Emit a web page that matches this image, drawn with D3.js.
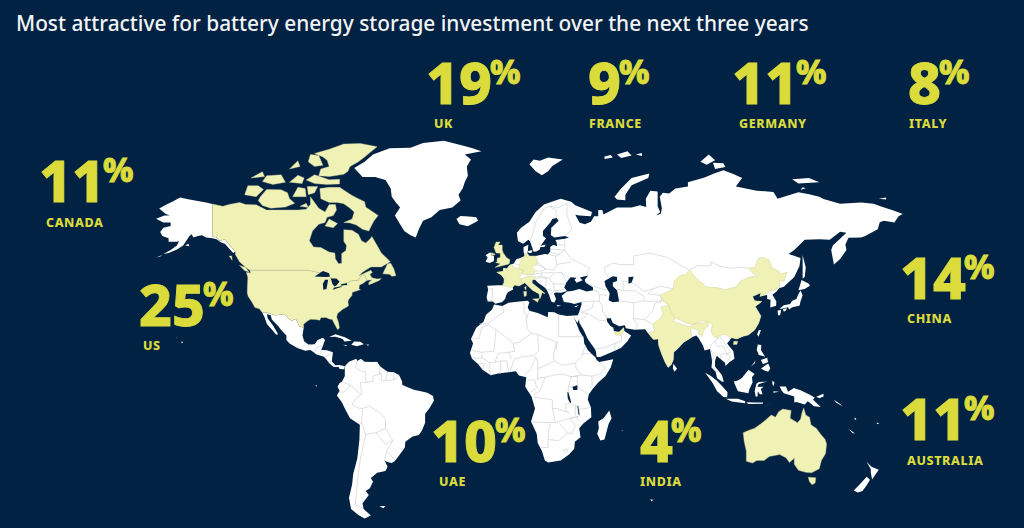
<!DOCTYPE html>
<html>
<head>
<meta charset="utf-8">
<script src="https://d3js.org/d3.v7.min.js"></script>
<style>
  html, body { margin: 0; padding: 0; background: #012243; }
  svg { display: block; }
  text { font-family: "Noto Sans", "Open Sans", sans-serif; }
</style>
</head>
<body>
<svg id="chart" width="1024" height="528"></svg>
<script>
// survey results
var titleText = "Most attractive for battery energy storage investment over the next three years";
var countries = ["UK", "FRANCE", "GERMANY", "ITALY", "CANADA", "US", "UAE", "INDIA", "CHINA", "AUSTRALIA"];
var shares = [19, 9, 11, 8, 11, 25, 10, 4, 14, 11];

// outlines, all [lon, lat]
var alaska = [[-141,69.6],[-144,70],[-148,70.4],[-152,70.8],[-156.5,71.3],[-160,70.3],[-163,69.5],[-166.5,68.4],[-163.5,67],[-161.5,66.5],[-164,66.5],[-168,65.6],[-164.5,64.5],[-161,64.5],[-161,63.5],[-164.5,63],[-166,61.7],[-165,60.5],[-162,59.8],[-162,58.7],[-158,58.7],[-157,58.8],[-158,57.5],[-161,56],[-164.5,54.7],[-162,55],[-158,56.2],[-155,57.5],[-153.5,59],[-152,60.5],[-151,61],[-150,60],[-148,60.5],[-146,60.7],[-144,60],[-141,59.8],[-139,59.5],[-137,58.5],[-135,58],[-133,56.5],[-131,55],[-130,55.5],[-132,57],[-135,59.5],[-137.5,59],[-139,60],[-141,60.3],[-141,65]];
var mexicoCentralAmerica = [[-117.1,32.5],[-114.8,32.5],[-111,31.3],[-108.2,31.5],[-106.5,31.8],[-104.7,30],[-103,29],[-101,29.7],[-99.2,26.5],[-97.2,25.9],[-97.8,22.5],[-97,20],[-95,18.5],[-92,18.6],[-90.5,20.5],[-88,21.5],[-87,20.5],[-88,18],[-88.8,16],[-86,15.9],[-83.2,15],[-83.6,12],[-83.7,10.8],[-82,9],[-80,9.2],[-77.5,8.6],[-77.8,7.2],[-80,7.3],[-80.5,8.2],[-82.8,8.2],[-85,10],[-86,11.3],[-87.5,13],[-91,14],[-94,16],[-96.5,15.7],[-100,16.8],[-104,19],[-105.5,20.5],[-105.5,22.5],[-108,25],[-109.5,26.7],[-112.5,29.5],[-113,31.3],[-114.8,31.7],[-114.5,30],[-112,27],[-110,24],[-109.5,23],[-110.5,23],[-112.3,25],[-114.8,27.5],[-116,30.5]];
var southAmerica = [[-77.5,8.6],[-75.5,10.7],[-72,12],[-71.5,11],[-69.8,12],[-68,10.6],[-64,10.5],[-62,10.7],[-60.5,8.5],[-57,6],[-54,5.8],[-51.5,4.5],[-50,1.5],[-50,0],[-48,-1],[-44,-2.5],[-41,-3],[-38,-3.8],[-35.2,-5.3],[-34.8,-7.5],[-37,-11],[-39,-13.5],[-39,-17.5],[-40.5,-21],[-42,-23],[-45,-23.7],[-48.5,-26],[-48.7,-28.5],[-52,-32.5],[-53.5,-34.2],[-55,-35],[-57.5,-34.5],[-58.4,-34],[-57,-36.5],[-58,-38.3],[-62,-39],[-65,-41],[-64,-42.5],[-65.5,-45],[-67.5,-46],[-66,-47.5],[-69,-50.5],[-68.5,-52.5],[-65,-54.7],[-68,-55.7],[-71,-54.5],[-74.5,-52.5],[-75.5,-48.5],[-74,-43.5],[-73.5,-39.5],[-71.5,-33],[-70.5,-25],[-70.3,-18.4],[-75,-15.5],[-77,-12],[-79,-8],[-81.3,-5],[-80,-2.8],[-81,-1],[-80,0.8],[-78.8,1.5],[-77.5,4],[-77.5,7]];
var africa = [[-5.9,35.8],[-2,35.2],[1,36.5],[5,36.9],[10,37.3],[11,36.8],[10.2,34.5],[11,33.2],[15,32.3],[19.8,30.5],[20,32.7],[23,32.6],[25,31.6],[29,31],[32.3,31.2],[32.6,30],[33.5,28],[35,24.5],[37,21.5],[37.3,19],[39,16],[42.5,12.7],[43.3,11.5],[44.5,10.5],[51.2,11.8],[50,8],[47.5,4],[44,1],[41.5,-1.8],[39.5,-4.5],[39,-7],[40.5,-10.5],[40.7,-15],[37,-17.8],[34.9,-20],[35.5,-24],[32.8,-26],[32.5,-29],[30,-31.5],[26,-34],[20,-34.8],[18.4,-34],[17,-30],[15,-26.5],[14.5,-22.5],[11.8,-17],[13.7,-11],[12,-5.5],[9,-1],[9.5,3.5],[6,4.3],[4.5,6.3],[1,5.8],[-4,5.2],[-7.5,4.4],[-11.5,7],[-13.5,9.5],[-16.5,12],[-17.5,14.7],[-16,19],[-17,21],[-14.5,26],[-11,28.5],[-9.8,31.5],[-7,33.6]];
var eurasia = [[-9,37],[-9.5,38.7],[-8.8,41.8],[-9.2,43.2],[-4,43.4],[-1.8,43.4],[-1.2,44.5],[-1.2,46],[-2.5,47.3],[-4.7,48.3],[-1.6,48.6],[-1.5,49.7],[0.2,49.6],[1.6,50.9],[3.5,51.4],[4.7,52.9],[7,53.4],[8.8,53.9],[8.2,55.5],[8.2,57],[10.5,57.7],[10.3,56],[10,54.8],[11,54],[14,54],[18.5,54.7],[19.8,54.5],[21,55.5],[21,57],[22.5,57.7],[24.3,57.2],[24,58.5],[23.5,59.2],[28,59.6],[30,60],[28,60.5],[23,60],[21.3,60.7],[21.5,63],[25,65],[24,65.8],[22,65.5],[21,64.5],[17.5,62],[17.5,60.5],[19,59.8],[16.5,57.5],[16,56.2],[14.3,55.5],[13,55.4],[11.3,58.8],[10.5,59.3],[8,58],[5.5,58.9],[5,61.5],[7,63],[11,64.7],[14,67.5],[18,69.5],[22,70.3],[26,71],[31,70.2],[33,69.3],[41,67.5],[40.5,66.3],[35,66.5],[33,66.7],[35,64.5],[37.5,64],[40.5,64.7],[42,66.3],[44,66.3],[44,68],[46,68],[46.5,66.8],[53,68.7],[60,68.7],[64,69.3],[67,68.8],[66.8,71],[69,73],[72.5,72.8],[72.5,69],[73.7,67.5],[71.8,66.5],[74,67],[74.5,68.5],[73.5,71.5],[75,72.5],[78,72.3],[81,73.5],[87,74],[87,75],[95,76.1],[104,77.7],[113,76],[110,74],[113,73.7],[120,73],[128,72.7],[130,71],[133,71.5],[140,72.6],[150,71.5],[152,70.9],[160,69.7],[170,70],[176,69.7],[180,68.9],[190,66.9],[188,66.3],[186,64.5],[181,65],[179,64.6],[178,62.5],[172,60.5],[170,60],[164,59.9],[162.5,57.8],[163,56],[160,53],[157,51],[155.7,56],[156.5,57.5],[163,61.5],[160,61.8],[155,59.3],[150,59.5],[143,59.3],[138,56],[135.3,54.7],[141,53.3],[140.5,50.5],[138,46.5],[133,42.8],[130.7,42.3],[129.5,41],[127.5,39.7],[129.4,37],[129.3,35.3],[126.5,34.5],[126.6,37.7],[125,38],[125,39.6],[121.5,39],[122,40.5],[118,39],[119,37.3],[122.5,37],[119.3,35],[122,31],[121,28],[119,25],[116,22.8],[113.5,22.2],[110.5,21],[108,21.5],[105.8,19],[108.8,15.5],[109.3,12],[107,10.5],[105,8.7],[104.8,10.2],[102.5,12],[100.8,13.4],[100,11],[100,8.5],[103.3,4.5],[104.2,1.4],[103.4,1.4],[101,3],[100.3,6],[98.3,8],[98.6,11],[97.6,16.5],[95,15.8],[94.3,18],[92,21.5],[91,22.5],[88.5,21.7],[87,20.7],[85,19.5],[82,16.5],[80.2,15],[80,11.5],[79,9.3],[77.5,8],[76,10.5],[74.5,14],[73,18],[72.7,21],[70.5,20.8],[69,22.3],[67.5,24],[66.5,25.3],[61.5,25.1],[57.3,25.7],[56.7,27],[54,26.6],[51,28],[50,30],[48,30],[48.3,28.5],[50,26.6],[51.2,26.1],[51.5,24.5],[54,24.1],[56.3,26.2],[56.5,24.5],[59.8,22.5],[58,20],[55,17],[52,15.7],[45,12.8],[43.3,12.8],[42.7,16],[39,21],[37,25],[35,28],[34.8,29.5],[34,28],[32.6,30],[32.3,31.2],[34.2,31.3],[35,33],[36,35.8],[36,36.8],[32.5,36],[30.5,36.5],[27.5,36.8],[26.5,39.3],[29,41],[31.5,41.2],[35,42],[38.5,41],[41.5,41.5],[41.5,42.5],[38,44.5],[37.5,45.5],[39.2,47.1],[35.2,46.3],[36.5,45.3],[33.6,44.4],[32.6,45.5],[33.6,46.2],[30.7,46.4],[28.7,44.5],[27.7,42.5],[29,41.2],[26.3,40.5],[23.7,40.6],[22.7,40.3],[23.8,38],[22.9,36.5],[21.5,37],[20.5,39.5],[19.4,41.5],[18.5,42.4],[15,44.5],[13.7,45.5],[12.4,45.4],[12.3,44.3],[13.5,43.5],[16,41.9],[18.5,40.2],[17,40.5],[16.5,39],[16,38],[15.7,40],[12.5,41.5],[10.5,43],[8.8,44.4],[7.5,43.8],[6,43.1],[4,43.5],[3,42.6],[3.2,41.8],[0.7,40.7],[-0.3,39.3],[-0.5,38.2],[-2,36.8],[-5.3,36.1],[-6.5,37]];
var greenland = [[-73,78.2],[-68,79.5],[-64,81],[-56,82.2],[-46,82.3],[-40,83.2],[-30,83.6],[-22,82.8],[-12,81.6],[-20,81],[-17,80],[-19,78.5],[-18.5,76.5],[-20,75],[-21,73.5],[-23,72],[-22,70.5],[-26,68.7],[-32,68],[-36,66],[-40,65],[-42,62.5],[-43.5,60],[-46,60.7],[-49,62],[-51,64],[-53.5,66.5],[-51,68.7],[-53,70],[-55,71.5],[-55.5,73.5],[-58,75.5],[-63,76.2],[-69,76.2]];
var whiteIslands = [
  [[-10,52],[-9,53.5],[-10,54.2],[-8,55.2],[-7.3,55.1],[-7.3,54.2],[-6,54],[-6,52.3],[-8,51.6]],
  [[-24,65.5],[-22,66.4],[-18,66.2],[-14.5,66],[-13.6,65],[-18.5,63.4],[-22.5,64]],
  [[11,79],[13,80],[16,79.7],[20,80.4],[27,80],[22,78.6],[20,77.5],[17,76.6],[14,77.5]],
  [[51.8,71.5],[55,73.5],[60,76],[68.5,77],[68,76],[60,74.3],[57,72],[57,70.6],[53,70.8]],
  [[47,80.6],[50,80.9],[51,80.4],[47,80.1]],
  [[53,81],[58,81.6],[60,80.8],[55,80.3]],
  [[62,81],[65,81.3],[65,80.7]],
  [[93,79.5],[97,81],[100,79.8],[96,78.9]],
  [[99,79.3],[104,79.2],[105,78.4],[100,78]],
  [[137,75.7],[145,76],[150,75],[140,74.7]],
  [[142,73.8],[143.5,73.6],[141,73.2]],
  [[178.5,71],[182,71.3],[182,70.8]],
  [[142,54.3],[143.5,50],[143,46.5],[142,46],[142,50]],
  [[130.9,34],[133,35.5],[136,36],[137,37.3],[139,38],[140,40],[141,41.4],[142,39.5],[141,37],[140.5,35.3],[137,34.6],[135.5,33.7],[135,34.6],[132,34]],
  [[140,41.5],[141.5,45.4],[145,44],[145.5,43.2],[143,42]],
  [[130,33.3],[131.7,33.5],[131.2,31.3],[130.2,31.3]],
  [[132.5,33.9],[134.5,34.2],[134,33.3],[133,32.8]],
  [[121,25],[122,25],[120.9,22],[120.2,23]],
  [[120.5,18.5],[122.2,18.3],[122,16],[124,13],[121,13.8],[120,16]],
  [[122,7.5],[125.5,9.8],[126.5,7.5],[125.5,6],[124,6.5]],
  [[122,11.5],[125,12.5],[125.5,10.5],[123,9.5]],
  [[117.3,8.5],[119.5,11.3],[119,10]],
  [[109,1.5],[111,2],[113,3.2],[116,7],[119,5],[117.7,3.5],[118,1],[116.5,-2],[116,-4],[111,-3],[110,-1]],
  [[95.3,5.6],[98,4],[100.8,2],[103.7,-1],[106,-3.5],[105.8,-5.8],[104,-5.7],[101,-3],[98.7,1]],
  [[105.2,-6.5],[108.5,-6.5],[111,-6.5],[114.5,-7.7],[114.4,-8.6],[108,-7.8]],
  [[119.5,-5.5],[119,-3],[119.8,0.5],[121,1.2],[125,1.5],[121,0.3],[120.3,-1],[122,-1],[123.3,-0.9],[122,-2],[122.8,-4.5],[121.5,-4.5],[120.5,-3],[120.4,-5.5]],
  [[115,-8.2],[119,-8.3],[123,-8.3],[123,-8.8],[116,-9]],
  [[123.5,-10.3],[127,-8.4],[125,-9.5]],
  [[128,-3],[130.8,-3.3],[128,-3.7]],
  [[127.5,2],[128.5,1],[128,-0.8],[127.5,0.5]],
  [[131,-0.8],[134,-0.8],[135,-3.3],[137.8,-1.5],[141,-2.6],[145,-4.5],[147.8,-6],[147,-7],[150.7,-10.4],[147.5,-10],[144.5,-7.7],[143,-9.2],[139,-8],[138,-8.3],[138,-5.5],[133,-4],[132,-2.8]],
  [[148.5,-5.6],[152,-4.2],[152,-5.5],[150,-6.3]],
  [[157,-7],[160,-9],[161,-10],[158,-8.3]],
  [[164,-20.2],[167,-22.3],[166,-22.2]],
  [[167,-15],[167.8,-16],[167,-16.3]],
  [[177.3,-17.5],[178.7,-17.7],[178,-18.2]],
  [[172.7,-34.5],[175,-36.5],[178.5,-37.7],[177,-39.5],[175.3,-41.6],[174.7,-39],[174.7,-37.5]],
  [[172.7,-40.5],[174.3,-41.7],[172.8,-43.7],[170.7,-46],[168.5,-46.6],[166.5,-45.8],[170,-43]],
  [[80,9.7],[81.8,7.5],[80.6,6],[79.8,7.5]],
  [[49.3,-12],[50.4,-15.5],[49,-18],[47,-25],[45,-25.5],[43.5,-22.5],[44.3,-20],[44,-17],[46.5,-15.5]],
  [[-85,21.9],[-82,23.1],[-77.5,21.8],[-74.2,20.2],[-77.7,19.9],[-78.5,21],[-82,22]],
  [[-74.4,18.4],[-73,19.9],[-70,19.8],[-68.4,18.6],[-71,18],[-71.7,17.7]],
  [[-78.3,18.4],[-76.3,18.2],[-77,17.8]],
  [[-67.2,18.5],[-65.6,18.4],[-66.5,18]],
  [[-61,-51.5],[-58,-51.4],[-59,-52.2]],
  [[-155.9,19.9],[-155,19.7],[-155.6,19]],
  [[-158.2,21.6],[-157.7,21.4],[-158,21.3]],
  [[-154,57.5],[-152.5,58],[-152,57.2]],
  [[-168,53.5],[-165,54.3],[-166,53.8]],
  [[69,-49],[70.5,-49.2],[69.5,-49.7]],
  [[55.2,-21],[55.8,-21],[55.5,-21.4]],
  [[-91.6,-0.3],[-90.9,-0.3],[-91.2,-1]],
  [[24,35.6],[26.2,35.3],[24.5,35]],
  [[32.5,35],[34.5,35.6],[33.5,34.7]],
  [[10,55.6],[12.5,56],[12,55],[10.8,55]],
  [[14.5,57],[18.8,57.8],[18.2,57]]
];
var canada = [[-141,69.6],[-136,69],[-133,69.5],[-128,70],[-125,69.5],[-120,69.4],[-115,68],[-110,68],[-105,68],[-100,68],[-96,68.2],[-94,69.5],[-94,71.5],[-92,70],[-90,68.5],[-87,67.5],[-85,69.5],[-82,69.5],[-81.5,68],[-83,66.5],[-86,66],[-87,64.5],[-90,64],[-93,62],[-94.5,59],[-92.5,57],[-89,56.8],[-85,55.3],[-82.3,55],[-82,53],[-80.5,51.3],[-79,51.5],[-79,53],[-79,54.8],[-77,55.8],[-76.7,57.5],[-78,58.8],[-78,60.5],[-78,62.4],[-74,62.2],[-71,61],[-69.5,59],[-67.5,58.3],[-65.5,59.5],[-64.5,60.3],[-62,57.5],[-60,55],[-57,53],[-55.7,52],[-58,51],[-60,50.2],[-65,50.2],[-67,49.3],[-69,48.3],[-70.8,47],[-65,49],[-64.3,48.2],[-65.5,47.5],[-64.5,46.2],[-62,45.8],[-60,46],[-61,45.2],[-64,44.2],[-66,43.6],[-66,44.5],[-64.5,45.5],[-67,45.2],[-67.8,47.1],[-69.2,47.4],[-71,45.3],[-74.7,45],[-76.5,44.2],[-79,43.3],[-79,42.8],[-83,42],[-82.5,43],[-82.5,45.3],[-84.5,46.5],[-88.5,48.3],[-89.5,48],[-95,49],[-100,49],[-105,49],[-110,49],[-115,49],[-120,49],[-123,49],[-125,50],[-128,52],[-130,54.5],[-130,55.5],[-132,57],[-135,59.5],[-137.5,59],[-139,60],[-141,60.3],[-141,65]];
var canadaIslands = [
  [[-80,73.8],[-77,72.8],[-74,71.8],[-71,71],[-68,70.2],[-67.5,68.8],[-64,67.5],[-61.5,66.5],[-63.5,65],[-65,63.3],[-66,62],[-69,62.5],[-72,63.8],[-75,64.4],[-78,64.5],[-74,65.5],[-73,67.5],[-75,68.5],[-78,69.7],[-81,70],[-85,70],[-89,71],[-89.5,73.5],[-85,73.8]],
  [[-90,76.5],[-89,78],[-85,78.5],[-86,79.8],[-88,80.5],[-92,81.2],[-85,82],[-78,83],[-70,83.1],[-62,82.5],[-65,81.5],[-68,80.5],[-71,79.5],[-75,78.5],[-76,77.5],[-78,76.8],[-85,76.3]],
  [[-96,75.5],[-92,76.7],[-85,75.6],[-80,75.7],[-80,74.6],[-86,74.5],[-92,74.7]],
  [[-95,79.5],[-94,81],[-90,80.8],[-88,78.8],[-92,78.5]],
  [[-119,70.5],[-118,71.5],[-115,73.3],[-108,73.2],[-105,72.5],[-104,71],[-101.5,69.8],[-106,68.8],[-113,68.5],[-117,69.2]],
  [[-125.5,72],[-124,74.2],[-119,74.2],[-116.5,73.3],[-120,71.5]],
  [[-117,75.2],[-115,76.5],[-108,76.7],[-106,75],[-112,74.5]],
  [[-102.5,71.5],[-100,73.8],[-96.5,73.5],[-96,71.5]],
  [[-95,72],[-95.5,74],[-90.5,74],[-92,72.5]],
  [[-87,63.5],[-85,65.5],[-81,64.2],[-83,63]],
  [[-104,75],[-100,76.6],[-97,76],[-98,74.7]],
  [[-122.5,76],[-117,77.4],[-116,76.3]],
  [[-104,78],[-100,79.7],[-99,78.5]],
  [[-99,69],[-96,69.8],[-95,68.7]],
  [[-59.3,47.7],[-57,51.3],[-55.5,51.5],[-54,49.5],[-53,47],[-55,46.8],[-56,47.5]],
  [[-128,50.7],[-125,50],[-123.5,48.4],[-125.5,48.8]],
  [[-133,54],[-131.7,54],[-131.5,52.5]]
];
var usa = [[-123,49],[-120,49],[-115,49],[-110,49],[-105,49],[-100,49],[-95,49],[-89.5,48],[-88.5,48.3],[-84.5,46.5],[-82.5,45.3],[-82.5,43],[-83,42],[-79,42.8],[-79,43.3],[-76.5,44.2],[-74.7,45],[-71,45.3],[-69.2,47.4],[-67.8,47.1],[-67,45.2],[-69,44],[-70.5,43.5],[-70.7,42],[-70,41.7],[-72,41.2],[-74,40.6],[-74,39.5],[-75.5,38],[-76,37],[-75.7,35.3],[-77,34.5],[-78.5,33.8],[-81,32],[-81.4,30.5],[-80.5,28.2],[-80.1,25.8],[-80.9,25.1],[-81.8,26.5],[-82.7,28],[-83.5,29.5],[-85,29.7],[-86.5,30.4],[-89,30.3],[-89.5,29.2],[-91.5,29.5],[-94,29.6],[-95.5,28.8],[-97.3,27.5],[-97.2,25.9],[-99.2,26.5],[-101,29.7],[-103,29],[-104.7,30],[-106.5,31.8],[-108.2,31.5],[-111,31.3],[-114.8,32.5],[-117.1,32.5],[-118.5,34],[-120.6,34.5],[-122,36.7],[-123.8,39],[-124.3,40.4],[-124.2,43],[-124,46.3],[-124.7,48.3],[-122.7,48]];
var china = [[134.7,48.3],[133,45],[131,45],[131,43],[130.7,42.3],[128,41.5],[126,41],[124.4,40],[121.5,39],[122,40.5],[118,39],[119,37.3],[122.5,37],[119.3,35],[122,31],[121,28],[119,25],[116,22.8],[113.5,22.2],[110.5,21],[108,21.5],[106.5,22],[105,23],[102,22.5],[101.5,21.2],[99.5,22],[98,24],[98.7,27.5],[97,28.3],[94,29],[92,28],[89,27.5],[86,28],[81,30.3],[78.5,32],[78,35.5],[75,37],[73.7,39.5],[76,40.5],[80,42],[80.3,45],[83,47],[85.7,47.5],[87.8,49.1],[91,46],[96,42.8],[101,42.5],[105,41.7],[110,42.8],[112,44.8],[116,46.5],[119.7,46.7],[116,49.8],[119,50],[121,53.3],[123.5,53.5],[126,52.5],[127.5,49.8],[130.5,48.8],[131,47.7]];
var hainan = [[109,20],[110.9,20],[110.5,18.5],[108.8,18.5]];
var india = [[74,34.7],[77.8,35.5],[79,32.5],[81,30.3],[80,28.8],[84,27.4],[88,26.4],[88.8,27.3],[92,27.8],[97,28.3],[97,27],[94.5,24.5],[93.5,22],[92,23.5],[92,25],[89.8,25.5],[88.5,26],[88.5,24],[89,21.8],[87,20.7],[85,19.5],[82,16.5],[80.2,15],[80,11.5],[79,9.3],[77.5,8],[76,10.5],[74.5,14],[73,18],[72.7,21],[70.5,20.8],[69,22.3],[68.2,23.7],[71,24.5],[70,27.5],[73,29.5],[74.5,31],[75,32.5]];
var france = [[-1.8,43.4],[-1.2,44.5],[-1.2,46],[-2.5,47.3],[-4.7,48.3],[-1.6,48.6],[-1.5,49.7],[0.2,49.6],[1.6,50.9],[2.6,51],[4.2,50],[5.8,49.5],[8.2,49],[7.6,47.6],[6,46.3],[7,45.9],[7.5,43.8],[6,43.1],[4,43.5],[3,42.6],[0.7,42.7]];
var corsica = [[8.6,42.5],[9.5,43],[9.3,41.5]];
var germany = [[7,53.4],[8.8,53.9],[8.7,54.9],[10,54.8],[11,54],[14,54],[14.7,52],[15,51],[12.2,50.3],[13.8,48.7],[13,47.5],[10,47.4],[7.6,47.6],[8.2,49],[6.2,49.5],[6,51],[7,52.3]];
var italy = [[7,45.9],[8.5,46.4],[12,47],[13.7,46.5],[13.7,45.6],[12.4,45.4],[12.3,44.3],[13.5,43.5],[16,41.9],[18.5,40.2],[17,40.5],[16.5,39],[16,38],[15.7,40],[12.5,41.5],[10.5,43],[8.8,44.4],[7.5,43.8]];
var sicily = [[12.5,38],[15.6,38.2],[15,36.7]];
var sardinia = [[8.2,41],[9.7,41],[9.5,39.2],[8.5,39]];
var greatBritain = [[-5.5,50],[-3.5,50.3],[1.3,51.2],[1.7,52.7],[0,53.5],[-1.5,55],[-2,56],[-2,57.6],[-4,57.6],[-3,58.6],[-5,58.6],[-6,56.8],[-5,55],[-3,54.9],[-3,53.5],[-4.5,53.2],[-4.5,52],[-5.2,51.7],[-3,51.3]];
var northernIreland = [[-7.3,55.1],[-5.5,54.7],[-5.6,54.3],[-7.3,54.2]];
var uae = [[51.6,24.2],[54,24.1],[56.3,25.8],[56.3,24.7],[55.2,22.7],[52.5,22.7]];
var australia = [[113.5,-22],[114,-26],[115,-30],[115,-34.3],[118,-35],[120,-34],[123.5,-34],[126,-32.3],[131,-31.5],[134,-32.8],[135.7,-34.8],[138,-33],[138,-35.5],[140,-38],[143.5,-38.8],[146.3,-39],[150,-37.3],[151,-34],[153,-31],[153.5,-27],[152.8,-25],[150.5,-22.5],[148.5,-20],[146,-18.5],[145.3,-15],[143.5,-14],[142.5,-10.8],[141.7,-13],[141,-16],[139.5,-17.5],[136,-15.5],[136.5,-12],[132.5,-11.3],[130.5,-12.5],[129,-15],[127,-14],[124,-16.5],[122,-18],[119,-20],[116,-21]];
var tasmania = [[144.7,-40.7],[148.3,-40.9],[148,-43],[146.5,-43.6],[145.3,-42.5]];

// water on top of the land
var lakes = [
  [[-92,46.7],[-88,48.7],[-85,47.9],[-84.7,46.6],[-87,46.5]],
  [[-87.8,41.7],[-86.3,42],[-85.5,45.5],[-87,45.5],[-88,44]],
  [[-84.5,46],[-81.5,46],[-80,44.7],[-81.7,43.2],[-82.5,43],[-83.5,44],[-84,45.5]],
  [[-83.3,41.7],[-79,42.8],[-79,43],[-82.5,42.5]],
  [[-79.7,43.3],[-76.3,43.5],[-76.5,44.2],[-79,43.9]],
  [[47,45],[51,46.8],[53,46.5],[53,45],[51,44.5],[51,43],[53,41.5],[53.5,39.5],[54,37],[51,36.7],[49,37.5],[49.5,40.3],[47.5,43]],
  [[58.5,46.5],[61,46.6],[60,44.5],[58.5,44]],
  [[31.7,-1],[34,-0.3],[34,-2.5],[32,-2.5]],
  [[29.2,-3.5],[29.7,-3.5],[31,-8],[30.6,-8.6],[29.4,-6.3]],
  [[34,-9.7],[34.4,-10],[35,-14],[34.5,-13.7]]
];

// land borders in the white countries
var borders = [
  [[-71.5,11],[-72.5,8],[-70,6.5],[-67.5,6],[-67.5,2],[-67,1.2]],
  [[-60.5,8.5],[-61,5],[-60,5.2],[-60,2],[-57,2],[-54,2.3],[-52,3.8],[-51.5,4.5]],
  [[-60,5.2],[-64,4],[-64,1.5],[-67,1.2],[-70,1],[-69.5,-4.2],[-73,-7.3],[-74,-9.5],[-70.5,-11],[-69,-11],[-65.5,-10],[-60,-13.5],[-58,-16.3],[-58,-20],[-54.5,-25.5],[-57.5,-30],[-53.5,-33.7]],
  [[-58,-20],[-62.5,-22],[-58,-27.2],[-54.5,-25.5]],
  [[-69,-11],[-69.5,-17.5],[-67.5,-22.8],[-62.5,-22]],
  [[-67.5,-22.8],[-68.5,-27],[-70,-33],[-71,-39],[-72,-47],[-72.5,-51],[-69,-52]],
  [[-80.3,-3.4],[-78,-3.5],[-75.5,-1],[-75,-0.1],[-78.8,1.3]],
  [[-75,-0.1],[-70,-4.2]],
  [[-70.3,-18.4],[-69.5,-17.5]],
  [[-57,6],[-58,2]],
  [[-54,5.8],[-54,2.3]],
  [[-58.4,-34],[-57.5,-30]],
  [[-92,14.6],[-91,17.2],[-89,17.9],[-88.2,18]],
  [[-89,15.9],[-89,14.2]],
  [[-83.2,15],[-87,13]],
  [[-83.7,10.8],[-85.7,11]],
  [[-82.8,8.2],[-82.6,9.6]],
  [[-77.8,7.5],[-77.3,8.6]],
  [[-2,35.2],[-1.2,32.5],[-5,30.5],[-8.7,27.7],[-13,27.7]],
  [[-8.7,27.3],[-12,26],[-13,21.3],[-17,21.3]],
  [[-8.7,27.3],[-5,25],[1,21],[3.3,19],[6,19.5],[12,23.5],[10,25.5],[9.5,30],[11,33.2]],
  [[8.3,37],[8.5,32.5],[10,30.3]],
  [[-5,25],[-6,15.5],[-12,15],[-16.5,16]],
  [[3.3,19],[4,15.5],[1,15]],
  [[25,31.6],[25,22],[37,22]],
  [[25,20],[24,19.5],[24,16]],
  [[12,23.5],[15,23],[24,19.5]],
  [[15,23],[15.5,16],[13.5,13.5],[8,13],[3.7,11.8]],
  [[24,19.5],[22.5,14],[23,11],[19,9],[15,7.5],[15,10.5],[14,13]],
  [[23,11],[27,9],[33,10],[36,13],[36.5,14.3],[38,18]],
  [[36.5,14.3],[40,14.5],[43,12.5]],
  [[43,11.2],[47.5,8],[45,5],[41,4],[36,4.5],[33.5,7.5],[33,10]],
  [[41,4],[41,-1.7]],
  [[39.3,-4.6],[34,-1],[30,-1]],
  [[34,-1],[34,4],[31,3.7],[29.7,-1]],
  [[36,4.5],[31,3.7],[27,5],[23,4.5],[18.5,3.5],[15,3]],
  [[15,7.5],[15,2]],
  [[29.7,-1],[29.5,-5],[30.5,-8.5],[28.5,-9],[28.5,-12],[30,-13],[24,-11],[22,-11],[22,-7],[13,-5.8]],
  [[18.5,3.5],[16,-3],[13,-4.8]],
  [[9.8,2.2],[13.5,2.2],[14.5,-1.5],[11,-3.8]],
  [[11.8,-17.2],[23.5,-17.5],[22,-11]],
  [[21,-18],[20,-22],[20,-28.5],[16.5,-28.5]],
  [[20,-25],[25,-25.5],[29.5,-22.2],[31.3,-22.4]],
  [[25.3,-17.8],[29.5,-22.2]],
  [[23.5,-17.5],[30,-15.7],[33,-15]],
  [[31.3,-22.4],[33,-19],[30.4,-15.6],[35,-14.5],[35,-11.5],[40.5,-10.5]],
  [[33,-9.5],[33,-14],[35,-17]],
  [[30.5,-8.5],[33,-9.5],[35,-11.5]],
  [[-12,15],[-11.5,12.4],[-16.7,12.4]],
  [[-11.5,12.4],[-8,10.2],[-8.3,7.5],[-7.5,4.4]],
  [[-3,5],[-2.8,11],[0.2,11],[1,6]],
  [[1.8,6.3],[3.7,11.8]],
  [[-8,10.2],[-5.5,10.5],[-2.8,11]],
  [[-5.5,10.5],[-4,14.5],[1,15],[2.5,12]],
  [[8.6,4.5],[12,7.5],[14,13]],
  [[-11.5,7],[-10.5,9.8],[-13,9.8]],
  [[27,-29.7],[29,-29],[29.3,-30],[27.8,-30.5],[27,-29.7]],
  [[28,59.5],[28,56],[31,53],[34,52],[40,49.7],[38,47.3]],
  [[38,44.5],[40,43.5],[47.5,41.5],[48.5,41.9]],
  [[49,46.5],[47.5,48],[47,50],[51,51.5],[55,51],[61,51],[61,54],[69,55],[77,53.5],[83,51],[87.5,49.2]],
  [[87.8,49.1],[92,50.7],[98,50.5],[98,52],[102,50.5],[107,49.7],[113,50],[116,49.8]],
  [[53,42],[56,41.3],[56,45],[61,44.2],[66,41],[70,42],[74,43],[80,42]],
  [[53,37.4],[61,36.5],[66,37.3],[66,39],[61.5,41.3],[56,41.3]],
  [[66,37.3],[68,37],[74.5,37.3],[73.7,39.5],[68,40],[70,42]],
  [[61,36.5],[61,31.5],[60.8,29.9],[66,29.5],[70,33],[71.5,36.4],[74.5,37]],
  [[60.8,29.9],[63,27],[61.5,25]],
  [[66,29.5],[70,27.5]],
  [[44.7,39.7],[44.5,37],[46,35],[46,33],[48.5,30]],
  [[36,36.8],[42,37.2],[44.5,37]],
  [[41.5,41.5],[43.5,41],[44.7,39.7],[48,39.5]],
  [[42,37.2],[41,34.3],[38.8,33.4],[36,32.5]],
  [[36,32.5],[39,32],[37,30],[35,29.5]],
  [[39,32],[44.5,29.2],[47.7,29]],
  [[43,16.7],[47,17],[52,19],[55,20],[55.2,22.7]],
  [[52,15.7],[52,19]],
  [[98.6,11],[99.5,13],[98,16],[97.5,18],[100,20],[101.5,21.2]],
  [[100,20],[101.5,17.5],[104,18],[105.5,14.3],[107.5,15],[105,18.5],[104,20],[102,22.5]],
  [[102.5,12],[103,14.3],[105.5,14.3],[107.5,13],[106,10.8]],
  [[100.2,6.5],[102,6.2]],
  [[126.5,37.8],[128.4,38.6]],
  [[-7,37.2],[-6.7,42],[-8.8,41.9]],
  [[14.7,52],[18.8,49.5],[22.5,49],[24,51],[23.5,54],[19.8,54.5]],
  [[15,51],[18.8,49.5],[17,48.7],[13.8,48.7]],
  [[9.6,47.3],[17,48],[16.5,46.8],[13.7,46.5]],
  [[17,48],[22.5,48.2]],
  [[16.5,46.8],[20.5,46],[22.8,48],[26.5,48.2],[28.2,45.5],[29.5,45]],
  [[20.5,46],[22.5,44],[28.5,43.7]],
  [[22.5,44],[23,41.3],[26.3,41.5],[28,42]],
  [[24,51],[31,52]],
  [[26.5,48.2],[30,46]],
  [[23.5,53.8],[28,56]],
  [[21,56.3],[28,56]],
  [[24.3,57.7],[27.5,57.6]],
  [[21,55.3],[26,54.3]],
  [[11.3,59],[12.5,61],[14,64.5],[18,68.5],[20.5,69],[25,68.7],[29,69.8],[29,66.5],[31.5,62.5],[27.8,60.5]],
  [[24,65.8],[23.7,68],[20.5,69]],
  [[3.5,51.4],[6,51]],
  [[13.7,45.6],[16,46.3],[19,46],[19,44],[18.5,42.4]],
  [[22,41.3],[19.5,41.8]],
  [[20.5,39.7],[23,41.3]]
];

var whiteRings = [alaska, mexicoCentralAmerica, southAmerica, africa, eurasia, greenland].concat(whiteIslands);
var highlightRings = [canada, usa, china, hainan, india, france, corsica, germany, italy, sicily, sardinia,
  greatBritain, northernIreland, uae, australia, tasmania].concat(canadaIslands);

// styles
var bgColor = "#012243";
var landColor = "#ffffff";
var pickedColor = "#f0f1b4";
var accent = "#dbdc3c";

// where each callout sits: number x, number baseline, label x, label baseline
var calloutPos = [
  [426, 104, 434, 128], [588, 104, 589, 128], [732, 104, 739, 128], [908, 104, 909, 128],
  [39, 202, 46, 227], [139, 326, 143, 350], [431, 462, 439, 486], [640, 462, 640, 486],
  [900, 299, 907, 323], [900, 440, 907, 465]
];

// builds a polygon, d3 wants the small side of the ring as the inside
function toPolygon(ring) {
    var closed = ring.concat([ring[0]]);
    var geo = { type: "Polygon", coordinates: [closed] };
    if (d3.geoArea(geo) > 2 * Math.PI)
        geo = { type: "Polygon", coordinates: [closed.slice().reverse()] };
    return geo;
}

// miller cylindrical, a bit taller than wide like the reference
function millerRaw(lambda, phi) {
    return [lambda, 1.029 * 1.25 * Math.log(Math.tan(Math.PI / 4 + 0.4 * phi))];
}

var svg = d3.select("#chart");

var projection = d3.geoProjection(millerRaw)
    .rotate([-11, 0])
    .scale(119.5)
    .translate([529.4, 384.7])
    .precision(0.3);
var path = d3.geoPath(projection);

// draws one group of filled rings
function drawRings(cls, rings, fill, stroke) {
    svg.append("g").attr("class", cls)
        .selectAll("path")
        .data(rings.map(toPolygon))
        .enter()
        .append("path")
        .attr("d", path)
        .attr("fill", fill)
        .attr("stroke", stroke)
        .attr("stroke-width", 0.4);
}

svg.append("rect").attr("width", 1024).attr("height", 528).attr("fill", bgColor);

drawRings("land", whiteRings, landColor, "none");

svg.append("path")
    .datum({ type: "MultiLineString", coordinates: borders })
    .attr("d", path)
    .attr("fill", "none")
    .attr("stroke", "#c5cad2")
    .attr("stroke-width", 0.6);

drawRings("picked", highlightRings, pickedColor, "#c9c9a0");
drawRings("lakes", lakes, bgColor, "none");

// title
svg.append("text")
    .attr("x", 16)
    .attr("y", 31)
    .attr("fill", "#f2f4f6")
    .attr("font-size", 20.85)
    .attr("font-weight", 500)
    .text(titleText);

// callouts
var callouts = svg.selectAll("g.callout")
    .data(countries)
    .enter()
    .append("g")
    .attr("class", "callout");

// the reference digits are heavier than the installed bold, a thin stroke makes up for it
var numbers = callouts.append("text")
    .attr("x", function(d, i) { return calloutPos[i][0]; })
    .attr("y", function(d, i) { return calloutPos[i][1]; })
    .attr("fill", accent)
    .attr("stroke", accent)
    .attr("stroke-width", 0.9)
    .attr("font-size", 57)
    .attr("font-weight", 800)
    .text(function(d, i) { return shares[i]; });

numbers.append("tspan")
    .attr("font-size", 33)
    .attr("dx", -2)
    .attr("dy", -20)
    .text("%");

callouts.append("text")
    .attr("x", function(d, i) { return calloutPos[i][2]; })
    .attr("y", function(d, i) { return calloutPos[i][3]; })
    .attr("fill", accent)
    .attr("font-size", 12.5)
    .attr("font-weight", 800)
    .attr("letter-spacing", 0.6)
    .text(function(d) { return d; });
</script>
</body>
</html>
